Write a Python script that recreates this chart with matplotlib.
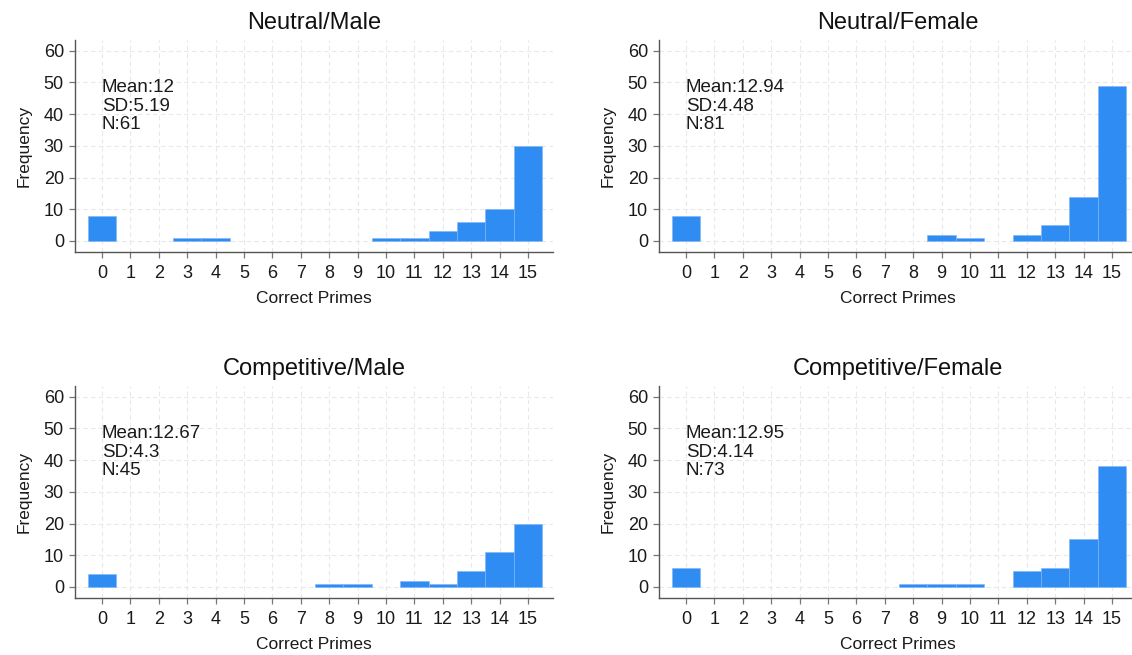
import numpy as np
import matplotlib
matplotlib.use("Agg")
import matplotlib.pyplot as plt

plt.rcParams['font.family'] = ['Liberation Sans', 'DejaVu Sans']

# Histogram counts per number of correct primes (0..15)
primes = np.arange(16)
neutral_male = [8, 0, 0, 1, 1, 0, 0, 0, 0, 0, 1, 1, 3, 6, 10, 30]
neutral_female = [8, 0, 0, 0, 0, 0, 0, 0, 0, 2, 1, 0, 2, 5, 14, 49]
competitive_male = [4, 0, 0, 0, 0, 0, 0, 0, 1, 1, 0, 2, 1, 5, 11, 20]
competitive_female = [6, 0, 0, 0, 0, 0, 0, 0, 1, 1, 1, 0, 5, 6, 15, 38]

titles = ["Neutral/Male", "Neutral/Female", "Competitive/Male", "Competitive/Female"]
stats = ["Mean:12\nSD:5.19\nN:61",
         "Mean:12.94\nSD:4.48\nN:81",
         "Mean:12.67\nSD:4.3\nN:45",
         "Mean:12.95\nSD:4.14\nN:73"]
yticks = [0, 10, 20, 30, 40, 50, 60]

BAR_COLOR = "#2f8cf3"
AXIS_COLOR = "#555555"
TEXT_COLOR = "#1a1a1a"

W, H = 1132, 655
fig = plt.figure(figsize=(W / 100, H / 100), dpi=100)

# axes boxes in pixels: (left, y of bottom axis line)
boxes = [(75, 252), (659, 252), (75, 598), (659, 598)]
ax_w, ax_h = 478, 212

for (left, bottom_px), title, counts, txt in zip(
        boxes, titles,
        [neutral_male, neutral_female, competitive_male, competitive_female],
        stats):
    ax = fig.add_axes([left / W, 1 - bottom_px / H, ax_w / W, ax_h / H])
    edges = ["#7fb6f5" if c > 0 else "none" for c in counts]
    ax.bar(primes, counts, width=1.0, color=BAR_COLOR, edgecolor=edges,
           linewidth=0.4, zorder=3)

    ax.set_xlim(-0.95, 15.88)
    ax.set_ylim(-3.5, 63.4)
    ax.set_xticks(primes)
    ax.set_yticks(yticks)

    ax.grid(True, color="#e8e8e8", linestyle=(0, (4, 3)), linewidth=0.8, zorder=0)
    for side in ["top", "right"]:
        ax.spines[side].set_visible(False)
    for side in ["left", "bottom"]:
        ax.spines[side].set_color(AXIS_COLOR)
        ax.spines[side].set_linewidth(1.0)

    ax.tick_params(axis="both", direction="out", length=4.5, width=0.9,
                   color="#777777", labelsize=13, labelcolor=TEXT_COLOR)
    ax.tick_params(axis="x", pad=5)
    ax.tick_params(axis="y", pad=3.5)

    ax.set_xlabel("Correct Primes", fontsize=12.5, labelpad=6, color=TEXT_COLOR)
    ax.set_ylabel("Frequency", fontsize=12.5, labelpad=9, color=TEXT_COLOR)
    ax.set_title(title, fontsize=17, pad=8, color="#111111")

    ax.text(0.0, 51.0, txt, ha="left", va="top", fontsize=13.5,
            linespacing=1.12, color=TEXT_COLOR, zorder=4)

fig.savefig("out.png", dpi=100)
